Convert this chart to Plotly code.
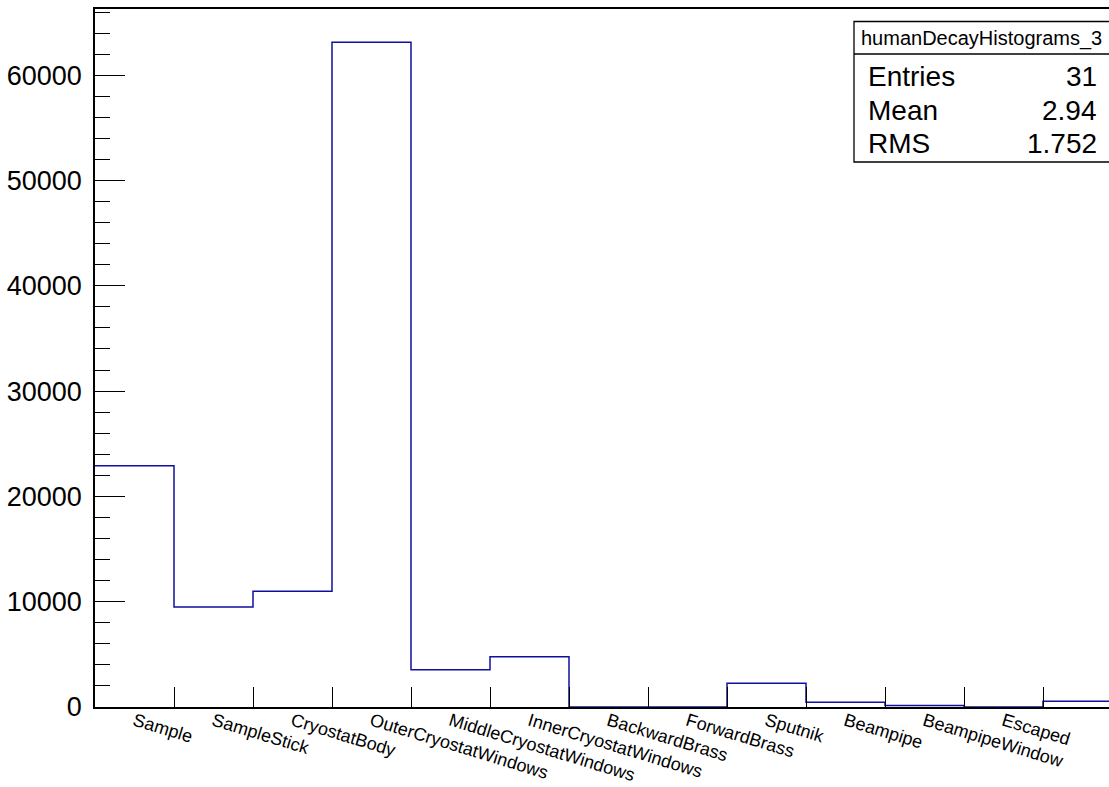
import plotly.graph_objects as go

# ---- data ----
categories = ["Sample", "SampleStick", "CryostatBody", "OuterCryostatWindows",
              "MiddleCryostatWindows", "InnerCryostatWindows", "BackwardBrass",
              "ForwardBrass", "Sputnik", "Beampipe", "BeampipeWindow", "Escaped"]
counts = [22900, 9500, 11000, 63130, 3540, 4780, 0, 0, 2250, 460, 140, 0, 540]
y_tickvals = [0, 10000, 20000, 30000, 40000, 50000, 60000]
y_ticktext = ["0", "10000", "20000", "30000", "40000", "50000", "60000"]
stats_title = "humanDecayHistograms_3"
stats_names = ["Entries", "Mean", "RMS"]
stats_values = ["31", "2.94", "1.752"]

FONT = "Liberation Sans, Arial, Helvetica, sans-serif"
LINE_COLOR = "#10109f"

n_bins = len(counts)
edges = list(range(n_bins + 1))
centers = [i + 0.5 for i in range(len(categories))]
step_x = edges
step_y = counts + [counts[-1]]

fig = go.Figure()
fig.add_trace(go.Scatter(x=step_x, y=step_y, mode="lines",
                         line=dict(shape="hv", color=LINE_COLOR, width=1.5),
                         hoverinfo="skip", showlegend=False))

W, H = 1109, 787
L, R, T, B = 95, 0, 9, 80
plot_w = W - L - R
bin_px = 79.0
x_max = plot_w / bin_px
y_max = max(counts) * 1.05

fig.update_layout(
    width=W, height=H,
    margin=dict(l=L, r=R, t=T, b=B, autoexpand=False),
    paper_bgcolor="white", plot_bgcolor="white",
    font=dict(family=FONT, color="black"),
    showlegend=False,
    xaxis=dict(range=[0, x_max], showgrid=False, zeroline=False, automargin=False,
               showline=True, linecolor="black", linewidth=1.6, mirror=True,
               tickmode="array", tickvals=centers, ticktext=categories,
               tickangle=17, ticks="", tickfont=dict(size=18, family=FONT),
               ticklabelstandoff=-5,
               minor=dict(tickmode="array", tickvals=edges[1:-1], ticks="inside",
                          ticklen=20, tickwidth=1.3, tickcolor="black", showgrid=False)),
    yaxis=dict(range=[0, y_max], showgrid=False, zeroline=False, automargin=False,
               showline=True, linecolor="black", linewidth=1.6,
               tickmode="array", tickvals=y_tickvals, ticktext=y_ticktext,
               ticks="inside", ticklen=30, tickwidth=1.3, tickcolor="black",
               tickfont=dict(size=27, family=FONT), ticklabelstandoff=6,
               minor=dict(dtick=2000, ticks="inside", ticklen=15, tickwidth=1.3,
                          tickcolor="black", showgrid=False)),
)

# ---- stats box (paper coords derived from pixel layout) ----
def px_x(p):
    return (p - L) / plot_w

def px_y(p):
    return (H - B - p) / (H - B - T)

box_x0, box_x1 = px_x(854), px_x(1125)
box_y0, box_y1 = px_y(162), px_y(21.5)
sep_y = px_y(54)
fig.add_shape(type="rect", xref="paper", yref="paper",
              x0=box_x0, x1=box_x1, y0=box_y0, y1=box_y1,
              line=dict(color="black", width=1.3), fillcolor="white", layer="above")
fig.add_shape(type="line", xref="paper", yref="paper",
              x0=box_x0, x1=box_x1, y0=sep_y, y1=sep_y,
              line=dict(color="black", width=1.3), layer="above")

fig.add_annotation(xref="paper", yref="paper", x=px_x(859), y=px_y(38),
                   xanchor="left", yanchor="middle", showarrow=False,
                   text=stats_title, font=dict(size=20, family=FONT, color="black"))
row_y = [76, 110, 144]
for name, val, py in zip(stats_names, stats_values, row_y):
    fig.add_annotation(xref="paper", yref="paper", x=px_x(866), y=px_y(py),
                       xanchor="left", yanchor="middle", showarrow=False,
                       text=name, font=dict(size=28, family=FONT, color="black"))
    fig.add_annotation(xref="paper", yref="paper", x=px_x(1099), y=px_y(py),
                       xanchor="right", yanchor="middle", showarrow=False,
                       text=val, font=dict(size=28, family=FONT, color="black"))

fig.write_html("out.html", config={"displayModeBar": False},
               post_script="document.body.style.margin='0';document.body.style.overflow='hidden';")
